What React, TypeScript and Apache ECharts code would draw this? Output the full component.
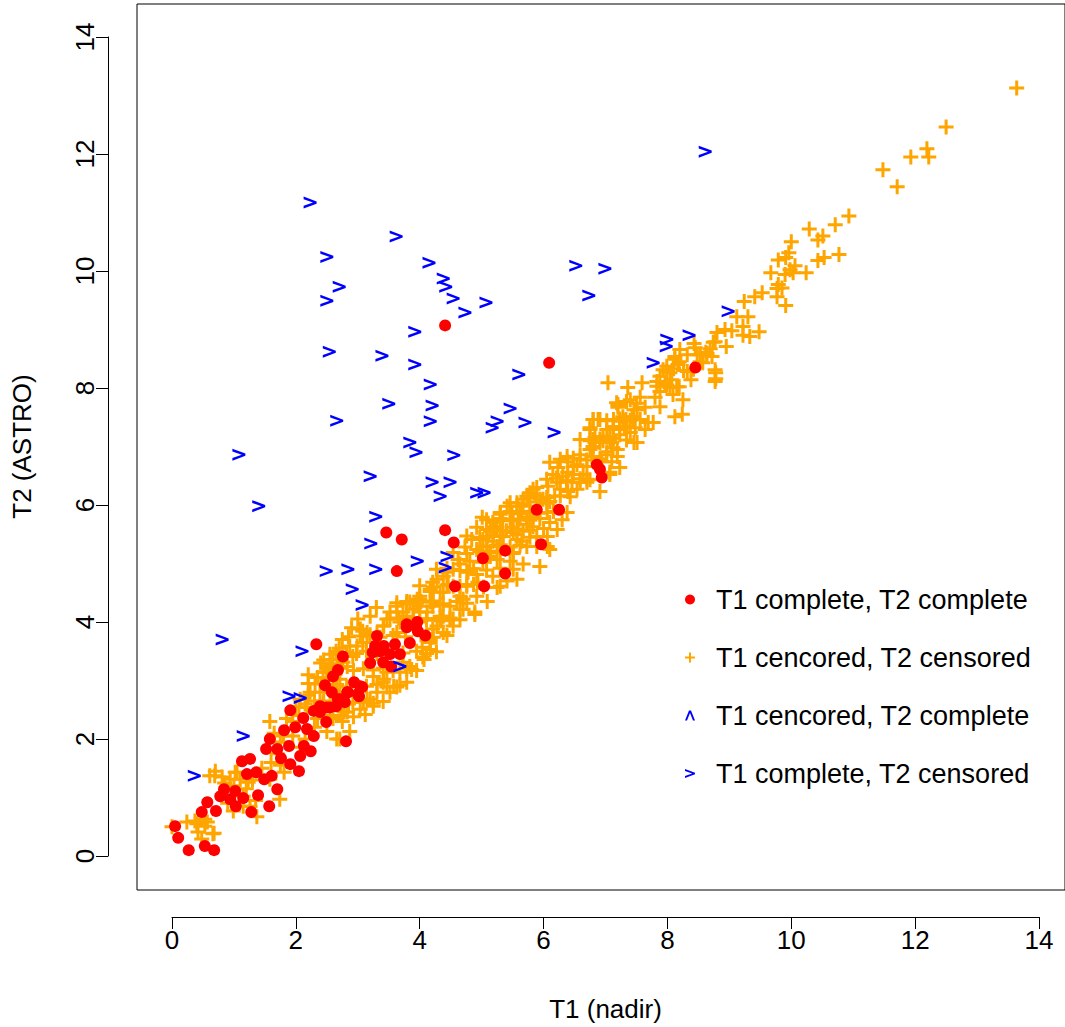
import React, { useEffect, useRef } from "react";
import * as echarts from "echarts";

// T1 complete, T2 complete (red dots)
const bothComplete: number[][] = [
  [4.41, 9.07], [6.09, 8.43], [8.45, 8.35], [6.86, 6.69], [6.91, 6.61], [6.94, 6.47],
  [5.89, 5.92], [6.25, 5.92], [5.96, 5.33], [5.38, 5.22], [5.38, 4.83],
  [3.46, 5.53], [3.71, 5.41], [4.41, 5.57], [4.55, 5.36], [3.63, 4.87], [5.02, 5.09], [5.04, 4.61], [4.57, 4.61],
  [3.79, 3.91], [3.96, 4.0], [3.97, 3.84], [4.09, 3.77], [3.84, 3.64], [3.6, 3.62], [3.31, 3.76], [3.28, 3.59],
  [3.24, 3.48], [3.39, 3.57], [3.52, 3.45], [3.68, 3.45], [3.41, 3.31], [3.54, 3.24], [3.2, 3.3], [2.76, 3.41], [2.33, 3.62],
  [2.68, 3.18], [2.6, 3.07], [2.47, 2.92], [2.71, 2.68], [2.55, 2.54], [2.39, 2.56], [2.29, 2.48], [2.12, 2.36],
  [1.91, 2.49], [1.81, 2.15], [1.99, 2.2], [2.18, 2.17], [2.29, 2.05], [2.49, 2.29], [2.81, 1.96], [1.58, 2.0],
  [1.52, 1.83], [1.7, 1.83], [1.89, 1.88], [2.13, 1.88], [2.07, 1.71], [2.24, 1.79], [1.76, 1.67], [1.91, 1.57],
  [1.13, 1.62], [1.26, 1.66], [1.36, 1.43], [1.21, 1.4], [1.49, 1.31], [1.61, 1.37], [1.7, 1.14], [2.05, 1.45],
  [0.84, 1.14], [1.02, 1.11], [1.15, 0.99], [0.94, 0.97], [0.78, 1.02], [1.39, 1.04], [1.03, 0.85], [0.57, 0.92],
  [0.71, 0.77], [0.48, 0.75], [1.28, 0.75], [1.57, 0.85], [0.05, 0.51], [0.1, 0.31], [0.27, 0.1], [0.53, 0.17], [0.68, 0.1],
  [2.94, 2.97], [3.04, 2.9], [3.02, 2.73], [2.83, 2.8], [2.65, 2.56], [3.42, 3.59], [3.36, 3.5], [3.07, 2.89],
  [3.0, 2.77], [2.58, 2.8], [2.84, 2.8], [2.68, 2.68], [2.79, 2.63], [2.5, 2.54], [2.39, 2.46], [3.79, 3.96], [3.94, 3.93],
];

// T1 cencored, T2 censored (orange plus)
const bothCensored: number[][] = [
  [13.64, 13.13], [12.5, 12.46], [12.19, 12.09], [12.22, 11.95], [11.93, 11.95], [11.48, 11.73], [11.71, 11.44],
  [10.93, 10.94], [10.71, 10.79], [10.29, 10.72], [10.51, 10.6], [10.43, 10.53], [10.0, 10.5], [9.96, 10.31],
  [9.79, 10.19], [9.91, 10.23], [10.77, 10.28], [10.53, 10.23], [10.43, 10.18], [10.06, 10.09], [9.98, 10.02],
  [10.03, 9.97], [9.9, 9.94], [9.67, 9.97], [10.24, 9.97], [9.79, 9.77], [9.77, 9.7], [9.85, 9.71], [9.77, 9.56],
  [9.91, 9.41], [9.53, 9.63], [9.41, 9.56], [9.24, 9.48], [9.3, 9.22], [9.12, 9.22], [9.22, 9.05], [8.93, 9.0],
  [9.04, 8.98], [9.48, 8.96], [9.22, 8.9], [9.33, 8.88], [8.95, 8.71], [8.77, 8.79], [8.69, 8.67], [8.62, 8.61],
  [8.53, 8.57], [8.45, 8.69], [8.72, 8.54], [8.78, 8.26], [8.78, 8.16], [8.2, 8.66], [8.12, 8.49], [8.19, 8.45],
  [8.43, 8.76], [8.53, 8.45], [8.32, 8.28], [7.99, 8.28], [7.88, 8.2], [7.59, 8.09], [7.04, 8.09], [7.36, 8.01],
  [8.07, 8.14], [8.19, 8.02], [8.38, 8.14],
  [8.8, 8.95], [8.74, 8.78], [8.48, 8.57], [8.64, 8.59], [8.77, 8.31], [8.77, 8.11], [8.57, 8.43], [8.32, 8.57],
  [8.12, 8.54], [8.17, 8.4], [7.99, 8.37], [8.04, 8.26], [7.83, 8.11], [7.96, 8.09], [7.88, 7.94], [8.04, 8.01],
  [7.8, 7.84], [7.88, 7.68], [8.09, 7.89], [8.25, 7.8], [8.12, 7.51], [8.24, 7.55], [7.4, 7.8], [7.56, 7.84],
  [7.2, 7.67], [7.51, 7.63], [7.64, 7.67], [7.28, 7.51], [7.43, 7.51], [7.56, 7.46], [7.23, 7.43], [7.12, 7.34],
  [7.35, 7.34], [7.48, 7.32], [7.69, 7.41], [7.77, 7.41], [7.64, 7.29], [6.91, 7.46], [6.75, 7.29], [7.02, 7.29],
  [7.07, 7.17], [7.23, 7.2], [7.4, 7.24], [7.51, 7.07], [6.83, 7.15], [6.91, 7.07], [7.12, 6.98], [7.02, 6.91],
  [6.8, 6.98], [7.19, 6.83], [7.1, 6.74], [6.94, 6.74], [6.78, 6.83], [6.59, 6.78], [6.38, 6.83], [6.48, 6.66],
  [6.39, 6.56], [6.7, 6.66], [7.07, 6.56],
  [7.2, 7.72], [7.46, 7.63], [7.33, 7.46], [7.23, 7.29], [7.46, 7.07], [6.88, 7.46], [6.75, 7.32], [6.96, 7.17],
  [6.83, 7.07], [7.1, 7.07], [6.75, 6.95], [7.02, 6.86], [7.19, 6.95], [6.59, 6.86], [7.23, 6.64], [7.07, 6.52],
  [6.91, 6.23], [6.1, 6.73], [6.23, 6.64], [6.39, 6.74], [6.54, 6.69], [6.31, 6.49], [6.48, 6.52], [6.64, 6.52],
  [6.46, 6.39], [6.59, 6.39], [6.7, 6.39], [6.54, 6.27], [6.39, 6.23], [6.27, 6.27], [6.18, 6.15], [6.07, 6.32],
  [5.89, 6.3], [5.78, 6.21], [5.99, 6.1], [6.1, 6.06], [5.67, 6.1], [5.57, 5.98], [5.78, 5.98], [6.06, 5.87],
  [6.38, 5.87], [6.1, 5.7], [6.3, 5.75], [5.49, 5.87], [5.34, 5.75], [5.59, 5.75], [5.73, 5.79], [5.22, 5.63],
  [5.49, 5.62], [5.67, 5.55], [5.83, 5.63], [5.89, 5.46], [6.06, 5.46], [5.09, 5.46], [5.3, 5.46], [5.57, 5.41],
  [5.02, 5.29], [5.25, 5.29], [5.73, 5.29], [6.1, 5.24], [5.51, 5.19], [5.14, 5.12],
  [6.15, 6.52], [6.22, 6.39], [5.83, 6.27], [5.75, 6.13], [5.94, 6.1], [5.57, 6.04], [5.41, 5.98], [5.65, 5.89],
  [5.83, 5.8], [5.3, 5.84], [5.51, 5.75], [5.73, 5.67], [6.06, 5.29], [5.01, 5.79], [5.18, 5.7], [4.92, 5.62],
  [5.14, 5.55], [5.3, 5.55], [5.51, 5.53], [5.65, 5.38], [4.84, 5.41], [5.02, 5.41], [5.18, 5.38], [4.73, 5.28],
  [4.92, 5.24], [5.14, 5.21], [5.25, 5.07], [5.46, 5.04], [5.67, 4.99], [5.51, 4.9], [5.41, 4.7], [4.62, 5.07],
  [4.81, 5.04], [5.02, 5.02], [4.54, 4.9], [4.76, 4.87], [4.92, 4.81], [5.18, 4.78], [4.38, 4.78], [4.21, 4.68],
  [4.46, 4.64], [4.76, 4.64], [4.94, 4.68], [5.25, 4.59], [4.17, 4.56], [4.33, 4.51], [4.65, 4.44], [4.92, 4.44],
  [5.09, 4.35], [4.89, 4.17], [4.0, 4.39], [4.21, 4.34], [4.49, 4.27], [4.7, 4.22], [3.89, 4.22], [4.12, 4.17],
  [4.33, 4.1], [4.54, 4.05], [3.79, 4.1], [4.0, 4.0], [4.28, 3.93],
  [4.65, 4.99], [4.78, 4.85], [4.44, 4.85], [4.28, 4.73], [4.54, 4.61], [4.76, 4.61], [4.17, 4.52], [4.38, 4.51],
  [4.0, 4.44], [4.7, 4.39], [4.89, 4.13], [3.84, 4.34], [4.21, 4.27], [4.65, 4.22], [3.63, 4.27], [3.73, 4.17],
  [4.0, 4.17], [4.38, 4.1], [4.54, 3.93], [3.52, 4.05], [3.68, 4.0], [4.21, 3.88], [4.38, 3.82], [3.41, 3.93],
  [3.63, 3.82], [4.17, 3.65], [4.17, 3.53], [4.05, 3.4], [3.31, 3.79], [3.15, 3.76], [3.08, 3.84], [3.08, 3.65],
  [2.99, 3.59], [3.73, 3.31], [3.87, 3.19], [3.68, 3.14], [3.47, 3.14], [2.92, 3.41], [2.76, 3.31], [2.6, 3.36],
  [2.55, 3.24], [3.25, 3.07], [3.41, 2.97], [3.63, 2.89], [3.31, 2.8], [3.52, 2.8], [3.15, 2.68], [2.71, 3.02],
  [2.71, 2.8], [2.92, 2.63], [3.25, 2.56], [3.04, 2.51], [2.83, 2.46],
  [3.04, 3.88], [2.87, 3.59], [2.5, 3.14], [3.52, 4.17], [3.96, 4.39], [5.3, 4.61], [5.57, 4.73], [5.94, 4.95],
  [6.22, 5.58], [6.7, 6.44], [6.8, 7.0], [6.8, 7.46],
  [2.58, 3.28], [2.44, 3.14], [2.31, 2.94], [2.39, 2.8], [2.18, 2.54], [1.58, 2.3], [2.5, 2.13], [2.71, 2.0],
  [2.07, 1.86], [0.69, 1.37], [0.81, 1.35], [1.02, 1.43], [1.1, 1.31], [1.23, 1.26], [0.89, 1.14], [1.15, 1.02],
  [1.74, 0.97], [1.26, 0.85], [0.99, 0.77], [1.37, 0.67], [0.24, 0.58], [0.4, 0.55], [0.57, 0.58], [0.42, 0.41],
  [0.0, 0.5], [0.66, 0.38], [0.48, 0.29], [0.37, 0.6], [0.53, 0.63], [0.68, 0.39], [0.53, 0.51], [0.61, 1.37],
  [0.94, 1.31], [1.05, 1.43], [1.58, 1.31], [1.81, 1.43], [2.66, 2.0], [2.87, 2.13], [4.04, 3.57], [2.78, 2.46],
  [3.2, 2.68], [3.42, 3.02], [3.58, 2.9], [3.79, 2.97], [3.84, 3.24], [4.07, 3.36], [4.17, 3.7], [4.0, 4.27],
  [3.63, 4.17], [3.42, 3.93], [3.15, 3.82], [2.83, 3.24], [2.62, 3.02], [2.23, 2.8], [2.07, 2.68], [2.2, 2.75],
  [2.05, 2.4], [1.95, 2.3], [2.6, 2.35], [2.85, 2.6], [1.8, 2.05], [1.7, 1.75], [2.3, 2.2], [2.65, 2.7],
  // dense core, x 2.4 - 4.7
  [3.63, 4.33], [3.79, 4.31], [4.02, 4.35], [4.22, 4.36], [4.33, 4.3], [3.47, 4.05], [3.66, 4.07], [3.9, 4.03],
  [4.11, 4.06], [4.35, 4.02], [4.49, 4.07], [4.65, 4.04], [3.04, 3.76], [3.2, 3.78], [3.36, 3.74], [3.57, 3.77],
  [3.77, 3.75], [4.02, 3.78], [4.22, 3.74], [4.44, 3.77], [2.82, 3.48], [2.98, 3.46], [3.14, 3.5], [3.31, 3.46],
  [3.47, 3.49], [3.73, 3.47], [3.95, 3.5], [4.11, 3.46], [4.27, 3.49], [2.55, 3.19], [2.73, 3.21], [2.93, 3.17],
  [3.09, 3.2], [3.25, 3.18], [3.41, 3.21], [3.57, 3.17], [3.79, 3.2], [3.95, 3.17], [2.5, 2.91], [2.66, 2.93],
  [2.82, 2.89], [2.98, 2.92], [3.14, 2.9], [3.31, 2.93], [3.47, 2.89], [3.68, 2.92], [2.44, 2.62], [2.6, 2.64],
  [2.77, 2.6], [3.09, 2.63], [3.25, 2.61], [3.41, 2.64], [2.73, 2.4], [2.93, 2.38], [3.12, 2.42],
  // dense core, x 3.7 - 6.1
  [5.46, 6.04], [5.67, 6.02], [5.89, 6.05], [6.05, 6.03], [5.08, 5.75], [5.3, 5.77], [5.46, 5.73], [5.62, 5.76],
  [5.78, 5.74], [5.94, 5.77], [4.76, 5.47], [4.97, 5.45], [5.19, 5.48], [5.35, 5.46], [5.57, 5.49], [5.78, 5.45],
  [4.54, 5.19], [4.76, 5.17], [4.97, 5.2], [5.13, 5.18], [5.3, 5.21], [5.51, 5.17], [4.27, 4.9], [4.44, 4.92],
  [4.65, 4.88], [4.87, 4.91], [5.08, 4.89], [5.3, 4.92], [4.0, 4.62], [4.22, 4.6], [4.44, 4.63], [4.65, 4.61],
  [4.87, 4.64], [5.03, 4.6], [3.79, 4.35], [3.95, 4.32], [4.17, 4.34], [4.38, 4.31], [4.6, 4.35], [4.76, 4.32],
  [3.73, 4.05], [3.9, 4.07], [4.11, 4.03], [4.33, 4.06], [4.49, 4.04],
  // x 5 - 7.4
  [7.13, 7.46], [7.29, 7.44], [7.45, 7.48], [6.8, 7.12], [6.96, 7.1], [7.13, 7.14], [7.34, 7.11], [6.27, 6.78],
  [6.48, 6.8], [6.7, 6.77], [6.91, 6.79], [6.05, 6.44], [6.21, 6.46], [6.37, 6.42], [6.59, 6.45], [6.75, 6.43],
  [5.73, 6.15], [5.89, 6.17], [6.05, 6.13], [6.27, 6.16], [6.43, 6.14], [5.3, 5.87], [5.46, 5.89], [5.62, 5.85],
  [5.78, 5.88], [5.94, 5.86], [6.16, 5.89], [5.08, 5.58], [5.24, 5.6], [5.4, 5.56], [5.57, 5.59], [5.78, 5.57],
  [6.0, 5.6], [5.08, 5.3], [5.3, 5.32], [5.46, 5.28], [5.62, 5.31], [5.89, 5.29],
  [6.59, 7.12], [6.75, 7.1], [6.91, 7.13], [7.07, 7.11], [6.8, 7.46], [7.02, 7.44], [7.23, 7.47], [7.4, 7.45],
  [7.18, 7.75], [7.34, 7.77], [7.5, 7.74], [7.83, 8.03], [7.99, 8.05], [8.15, 8.02], [7.93, 8.31], [8.1, 8.33],
  [8.26, 8.3], [8.42, 8.32],
  // lower band, x 0.7 - 3.3
  [2.2, 2.95], [2.35, 3.05], [2.5, 3.0], [2.45, 2.65], [2.6, 2.85], [2.15, 2.6], [2.0, 2.55], [1.85, 2.35],
  [1.95, 2.05], [2.15, 2.0], [2.35, 2.35], [2.55, 2.4], [2.75, 2.3], [1.65, 2.1], [1.75, 1.95], [0.7, 1.45],
  [0.85, 1.25], [1.0, 1.2], [1.2, 1.15], [1.3, 1.3], [1.45, 1.5], [1.35, 0.95], [1.15, 0.85], [0.9, 0.9],
  [1.6, 1.6], [1.75, 1.55], [2.2, 3.1], [2.4, 3.3], [2.55, 3.45], [2.7, 3.55], [2.85, 3.75], [2.3, 2.65],
  [2.9, 3.9], [2.75, 3.7], [3.0, 4.05], [3.2, 4.1], [3.3, 4.25], [2.65, 3.5], [2.45, 3.35],
];

// T1 cencored, T2 complete (none visible in the plot)
const t1CensT2Comp: number[][] = [];

// T1 complete, T2 censored (blue ">")
const t1CompT2Cens: number[][] = [
  [8.61, 12.04], [2.23, 11.17], [3.62, 10.59], [2.5, 10.24], [4.15, 10.14], [6.52, 10.09], [6.99, 10.04],
  [2.7, 9.73], [4.38, 9.87], [4.42, 9.73], [2.5, 9.49], [4.54, 9.53], [5.07, 9.46], [4.73, 9.29], [6.73, 9.58],
  [3.92, 8.96], [8.98, 9.31], [2.54, 8.62], [3.39, 8.55], [3.92, 8.4], [5.6, 8.23], [8.35, 8.9], [7.99, 8.83],
  [7.98, 8.71], [7.77, 8.43], [5.46, 7.65], [5.7, 7.41], [6.17, 7.24], [5.25, 7.43], [5.17, 7.32], [4.17, 8.06],
  [3.5, 7.73], [4.2, 7.7], [2.66, 7.44], [4.17, 7.43], [3.84, 7.07], [3.94, 6.9], [4.55, 6.85], [1.08, 6.86],
  [3.2, 6.49], [4.2, 6.39], [4.49, 6.39], [4.33, 6.15], [4.92, 6.21], [5.04, 6.21], [1.4, 5.98], [3.29, 5.8],
  [3.21, 5.34], [3.96, 5.04], [4.44, 5.12], [4.41, 4.93], [2.49, 4.87], [2.84, 4.9], [3.29, 4.9], [2.91, 4.56],
  [3.07, 4.29], [2.1, 3.5], [0.81, 3.7], [3.68, 3.24], [1.89, 2.73], [2.07, 2.7], [1.15, 2.05], [0.36, 1.37],
];

const xTicks = [0, 2, 4, 6, 8, 10, 12, 14];
const yTicks = [0, 2, 4, 6, 8, 10, 12, 14];

const FONT = "'Liberation Sans', Arial, Helvetica, sans-serif";
const PLUS = "path://M5.6,0 H8.4 V5.6 H14 V8.4 H8.4 V14 H5.6 V8.4 H0 V5.6 H5.6 Z";
const CHEVRON = "path://M0,0.5 L12.5,5 L12.5,7 L0,11.5 L0,9 L9,6 L0,3 Z";
const CARET = "path://M0,10 L4,0 L6,0 L10,10 L8,10 L5,2.6 L2,10 Z";

export default function App() {
  const ref = useRef<HTMLDivElement>(null);

  useEffect(() => {
    const chart = echarts.init(ref.current!, null, { renderer: "svg" });
    const names = [
      "T1 complete, T2 complete",
      "T1 cencored, T2 censored",
      "T1 cencored, T2 complete",
      "T1 complete, T2 censored",
    ];
    chart.setOption({
      animation: false,
      backgroundColor: "#ffffff",
      grid: [
        { left: 172, top: 37, width: 867, height: 820, show: false },
        {
          left: 137, top: 4, width: 936, height: 886, show: true,
          borderColor: "#000", borderWidth: 1, backgroundColor: "transparent",
        },
      ],
      xAxis: [
        {
          gridIndex: 0, type: "value", min: xTicks[0], max: xTicks[xTicks.length - 1], interval: 2,
          position: "bottom", offset: 61,
          axisLine: { show: true, onZero: false, lineStyle: { color: "#000", width: 1 } },
          axisTick: { show: true, length: 12, lineStyle: { color: "#000", width: 1 } },
          axisLabel: { show: true, fontSize: 26, color: "#000", fontFamily: FONT, margin: 10 },
          splitLine: { show: false },
          name: "T1 (nadir)", nameLocation: "middle", nameGap: 79,
          nameTextStyle: { fontSize: 26, color: "#000", fontFamily: FONT },
        },
        { gridIndex: 1, type: "value", min: -0.56, max: 14.56, show: false },
      ],
      yAxis: [
        {
          gridIndex: 0, type: "value", min: yTicks[0], max: yTicks[yTicks.length - 1], interval: 2,
          position: "left", offset: 64,
          axisLine: { show: true, onZero: false, lineStyle: { color: "#000", width: 1 } },
          axisTick: { show: true, length: 12, lineStyle: { color: "#000", width: 1 } },
          axisLabel: { show: true, rotate: 90, fontSize: 26, color: "#000", fontFamily: FONT, margin: 10 },
          splitLine: { show: false },
          name: "T2 (ASTRO)", nameLocation: "middle", nameGap: 73,
          nameTextStyle: { fontSize: 26, color: "#000", fontFamily: FONT },
        },
        { gridIndex: 1, type: "value", min: -0.56, max: 14.56, show: false },
      ],
      legend: {
        orient: "vertical", left: 685, top: 586, padding: 0,
        itemWidth: 10, itemHeight: 10, itemGap: 31, selectedMode: false,
        textStyle: { fontSize: 27, lineHeight: 26, color: "#000", fontFamily: FONT, padding: [0, 0, 0, 16] },
        data: [
          { name: names[0], icon: "circle" },
          { name: names[1], icon: PLUS },
          { name: names[2], icon: CARET },
          { name: names[3], icon: CHEVRON },
        ],
      },
      series: [
        {
          type: "scatter", name: names[1], data: bothCensored, xAxisIndex: 0, yAxisIndex: 0,
          symbol: PLUS, symbolSize: 15, clip: false, silent: true,
          itemStyle: { color: "#FFA500", opacity: 1 },
        },
        {
          type: "scatter", name: names[0], data: bothComplete, xAxisIndex: 0, yAxisIndex: 0,
          symbol: "circle", symbolSize: 12, clip: false, silent: true,
          itemStyle: { color: "#FF0000", opacity: 1 },
        },
        {
          type: "scatter", name: names[2], data: t1CensT2Comp, xAxisIndex: 0, yAxisIndex: 0,
          symbol: CARET, symbolSize: 10, clip: false, silent: true,
          itemStyle: { color: "#0000FF", opacity: 1 },
        },
        {
          type: "scatter", name: names[3], data: t1CompT2Cens, xAxisIndex: 0, yAxisIndex: 0,
          symbol: CHEVRON, symbolSize: [13, 12], clip: false, silent: true,
          itemStyle: { color: "#0000FF", opacity: 1 },
        },
      ],
    });
    return () => chart.dispose();
  }, []);

  return (
    <div
      ref={ref}
      style={{ position: "absolute", left: 0, top: 0, width: 1065, height: 1027, background: "#fff" }}
    />
  );
}
